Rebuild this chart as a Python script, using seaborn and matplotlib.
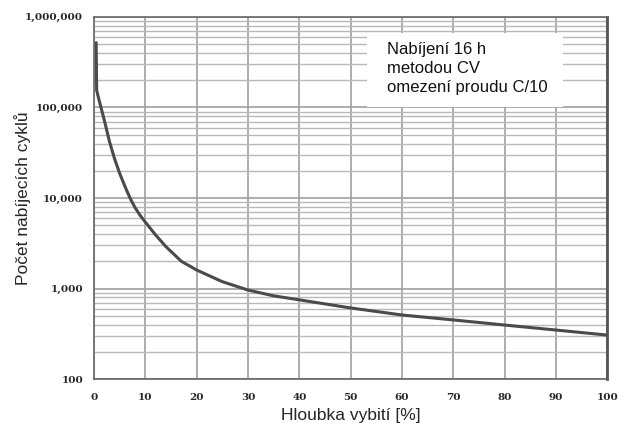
import matplotlib
matplotlib.use("Agg")
import matplotlib.pyplot as plt
import matplotlib.ticker as mticker
import seaborn as sns

# values (depth of discharge % -> number of cycles)
depth = [0.4, 0.5, 1, 2, 3, 4, 5, 6, 7, 8, 9, 10, 12, 14, 17, 20, 25, 30, 35, 40,
         50, 60, 70, 80, 90, 100]
cycles = [520000, 155000, 119000, 72000, 42000, 27000, 18600, 13500, 10000, 7800,
          6400, 5400, 3900, 2900, 2000, 1600, 1190, 962, 830, 750,
          610, 510, 450, 395, 348, 306]

x_ticks = list(range(0, 101, 10))
y_ticks = [100, 1000, 10000, 100000, 1000000]
note = "Nabíjení 16 h\nmetodou CV\nomezení proudu C/10"

sns.set_style("white")
plt.rcParams["font.family"] = ["Liberation Sans", "DejaVu Sans"]

fig = plt.figure(figsize=(6.19, 4.24), dpi=100)
ax = fig.add_axes([0.152, 0.106, 0.829, 0.854])

sns.lineplot(x=depth, y=cycles, ax=ax, estimator=None, sort=False,
             color="#4a4a4a", linewidth=2.2)

ax.set_yscale("log")
ax.set_xlim(0, 100)
ax.set_ylim(100, 1000000)
ax.set_xticks(x_ticks)
ax.set_yticks(y_ticks)
ax.yaxis.set_major_formatter(mticker.FuncFormatter(lambda v, p: f"{int(v):,}"))
ax.yaxis.set_minor_locator(mticker.LogLocator(base=10, subs=range(2, 10)))
ax.yaxis.set_minor_formatter(mticker.NullFormatter())

ax.grid(which="major", color="#a0a0a0", linewidth=1.2)
ax.grid(which="minor", axis="y", color="#b8b8b8", linewidth=1.0)
ax.set_axisbelow(True)

for lab in ax.get_xticklabels() + ax.get_yticklabels():
    lab.set_fontfamily("DejaVu Serif")
    lab.set_fontweight("bold")
    lab.set_fontsize(7.5)
ax.tick_params(which="major", length=3, width=0.8, color="#777777")
ax.tick_params(axis="y", pad=5)
ax.tick_params(which="minor", length=2, width=0.6, color="#999999")
ax.tick_params(axis="x", length=0, pad=10)

for side, sp in ax.spines.items():
    sp.set_color("#666666")
    sp.set_linewidth(1.2)
ax.spines["right"].set_linewidth(2)
ax.spines["right"].set_color("#555555")

ax.set_xlabel("Hloubka vybití [%]", fontsize=12.5, labelpad=4)
ax.set_ylabel("Počet nabíjecích cyklů", fontsize=12.5, labelpad=-4)

# white box behind the note
ax.add_patch(plt.Rectangle((0.532, 0.751), 0.382, 0.205, transform=ax.transAxes,
                           facecolor="white", edgecolor="none", zorder=3))
ax.text(0.571, 0.93, note, transform=ax.transAxes, fontsize=12, va="top",
        ha="left", linespacing=1.3, color="#111111", zorder=4)

fig.savefig("out.png", dpi=100)
